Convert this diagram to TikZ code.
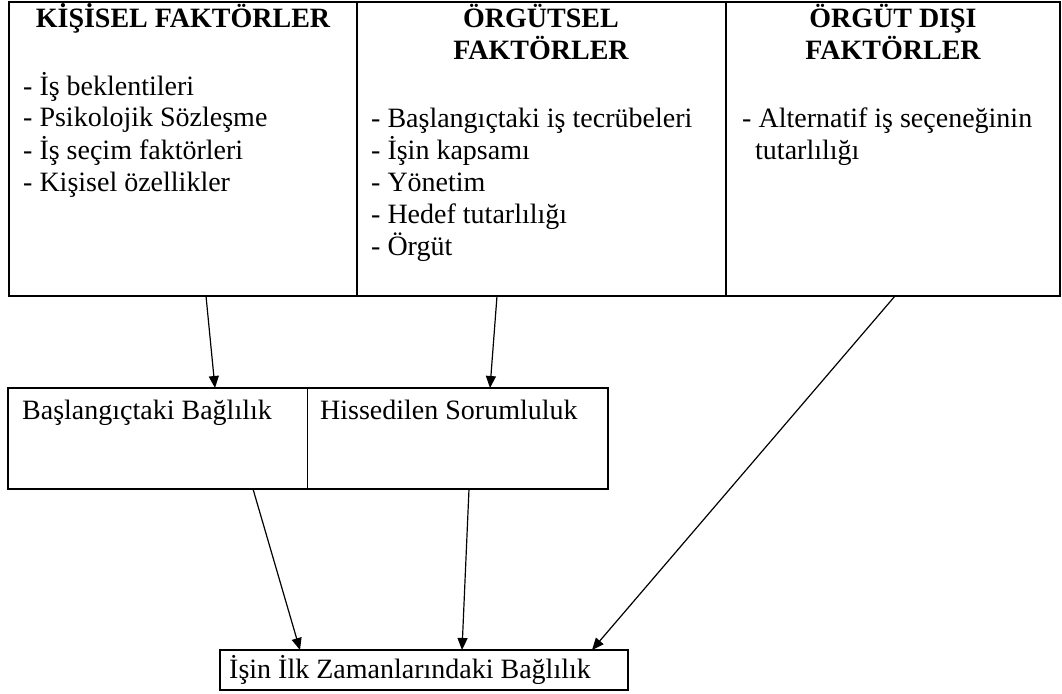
\documentclass[tikz,border=0pt]{standalone}
\usepackage{fontspec}
\setmainfont{Liberation Serif}
\usetikzlibrary{arrows.meta}
\begin{document}
\begin{tikzpicture}[x=1pt,y=-1pt,
  box/.style={draw, line width=2pt, inner sep=0pt, outer sep=0pt},
  cell/.style={draw, line width=1pt, inner sep=0pt, outer sep=0pt},
  head/.style={inner sep=0pt, anchor=base, font=\fontsize{28}{32}\selectfont\bfseries},
  txt/.style={inner sep=0pt, anchor=base west, font=\fontsize{28}{32}\selectfont},
  arr/.style={line width=1.2pt, -{Triangle[length=12pt,width=10pt]}}]
\useasboundingbox (0,0) rectangle (1062,693);

% factor columns
\node[box, minimum width=348pt, minimum height=294pt] (kisisel) at (183,149) {};
\node[box, minimum width=369pt, minimum height=294pt] (orgutsel) at (541.5,149) {};
\node[box, minimum width=334pt, minimum height=294pt] (disi) at (893,149) {};
\draw[line width=2.8pt] (kisisel.north west) rectangle (disi.south east);

\node[head] (h1) at (183,28) {KİŞİSEL FAKTÖRLER};
\node[head] (h2) at (541,28) {\parbox[t]{330pt}{\centering ÖRGÜTSEL\\FAKTÖRLER}};
\node[head] (h3) at (893,28) {\parbox[t]{320pt}{\centering ÖRGÜT DIŞI\\FAKTÖRLER}};

\node[txt] (l1) at (23,95) {\parbox[t]{330pt}{\raggedright
  - İş beklentileri\\
  - Psikolojik Sözleşme\\
  - İş seçim faktörleri\\
  - Kişisel özellikler}};
\node[txt] (l2) at (371,127) {\parbox[t]{350pt}{\raggedright
  - Başlangıçtaki iş tecrübeleri\\
  - İşin kapsamı\\
  - Yönetim\\
  - Hedef tutarlılığı\\
  - Örgüt}};
\node[txt] (l3) at (742,127) {\parbox[t]{315pt}{\raggedright
  - Alternatif iş seçeneğinin\\
  \hspace*{13pt}tutarlılığı}};

% intermediate outcomes
\node[cell, minimum width=299pt, minimum height=101pt] (baslangic) at (157.5,438.5) {};
\node[cell, minimum width=301pt, minimum height=101pt] (hissedilen) at (457.5,438.5) {};
\draw[line width=2.4pt] (baslangic.north west) rectangle (hissedilen.south east);
\node[txt] (t1) at (22,419) {Başlangıçtaki Bağlılık};
\node[txt] (t2) at (320,419) {Hissedilen Sorumluluk};

% final outcome
\node[box, minimum width=408pt, minimum height=40pt] (ilk) at (424,670) {};
\node[txt] (t3) at (229,678) {İşin İlk Zamanlarındaki Bağlılık};

% influences
\draw[arr] ([xshift=23pt]kisisel.south) -- ([xshift=57.5pt]baslangic.north);
\draw[arr] ([xshift=-44.5pt]orgutsel.south) -- ([xshift=32.5pt]hissedilen.north);
\draw[arr] ([xshift=2pt]disi.south) -- ([xshift=168pt]ilk.north);
\draw[arr] ([xshift=95.5pt]baslangic.south) -- ([xshift=-124pt]ilk.north);
\draw[arr] ([xshift=11.5pt]hissedilen.south) -- ([xshift=38pt]ilk.north);
\end{tikzpicture}
\end{document}
